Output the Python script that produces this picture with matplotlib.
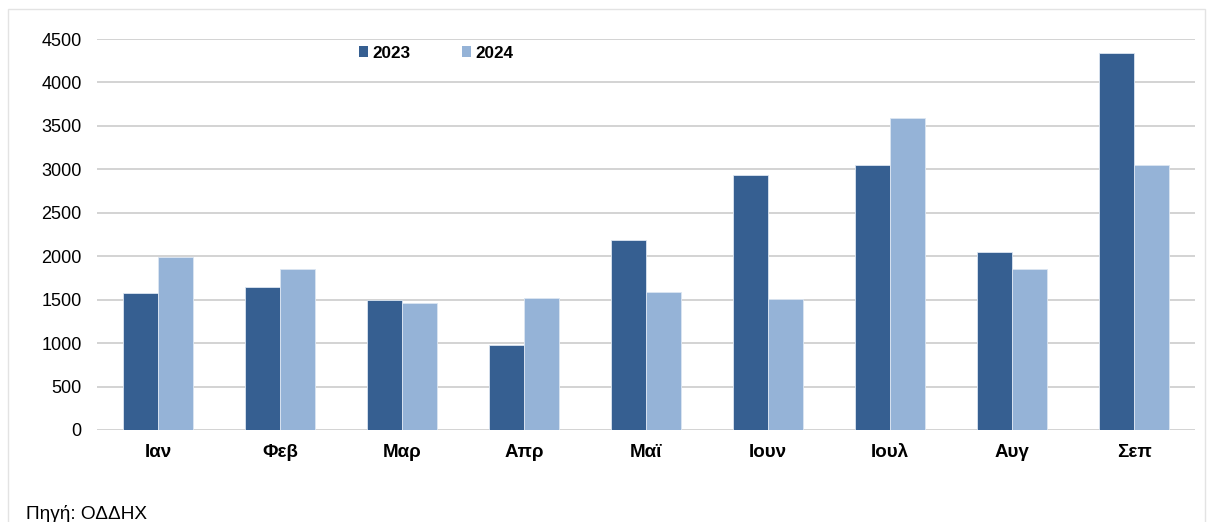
import numpy as np
import matplotlib.pyplot as plt
from matplotlib.patches import Rectangle, Patch

plt.rcParams['font.family'] = ['Liberation Sans', 'DejaVu Sans']

# monthly values
months = ['Ιαν', 'Φεβ', 'Μαρ', 'Απρ', 'Μαϊ', 'Ιουν', 'Ιουλ', 'Αυγ', 'Σεπ']
values_2023 = [1575, 1645, 1500, 975, 2185, 2935, 3045, 2050, 4335]
values_2024 = [1990, 1850, 1465, 1517, 1585, 1505, 3595, 1855, 3045]
series_names = ['2023', '2024']

dark = '#365F91'
light = '#95B3D7'

fig = plt.figure(figsize=(12.08, 5.22), dpi=100)
ax = fig.add_axes([97 / 1208, 92 / 522, 1098 / 1208, 391 / 522])

x = np.arange(len(months))
w = 0.287
ax.bar(x - w / 2, values_2023, width=w, color=dark, edgecolor='#DCE6F2', linewidth=0.6, zorder=3)
ax.bar(x + w / 2, values_2024, width=w, color=light, edgecolor='#DCE6F2', linewidth=0.6, zorder=3)

ax.set_xlim(-0.5, len(months) - 0.5)
ax.set_ylim(0, 4500)
ax.set_yticks(np.arange(0, 4501, 500))
ax.set_xticks(x)
ax.set_xticklabels(months, fontweight='bold', fontsize=13.5)
ax.tick_params(axis='both', length=0, colors='#000000')
ax.tick_params(axis='y', labelsize=13, pad=11)
ax.tick_params(axis='x', pad=10)
ax.yaxis.grid(True, color='#C8C8C8', linewidth=1.1, zorder=0)
for s in ax.spines.values():
    s.set_visible(False)

handles = [Patch(facecolor=dark), Patch(facecolor=light)]
fig.legend(handles, series_names, loc='center', bbox_to_anchor=(436 / 1208, 1 - 53 / 522),
           ncol=2, frameon=False, handlelength=0.55, handleheight=0.55,
           handletextpad=0.25, columnspacing=3.0,
           prop={'weight': 'bold', 'size': 12.3})

# light outer frame around the chart
fig.patches.append(Rectangle((8 / 1208, -0.1), 1197 / 1208, 1.1 - 9 / 522,
                             transform=fig.transFigure, fill=False,
                             edgecolor='#E3E3E3', linewidth=1.0))

fig.text(26 / 1208, 1 - 514 / 522, 'Πηγή: ΟΔΔΗΧ', fontsize=13.7, va='center', ha='left')

fig.savefig('out.png', dpi=100)
